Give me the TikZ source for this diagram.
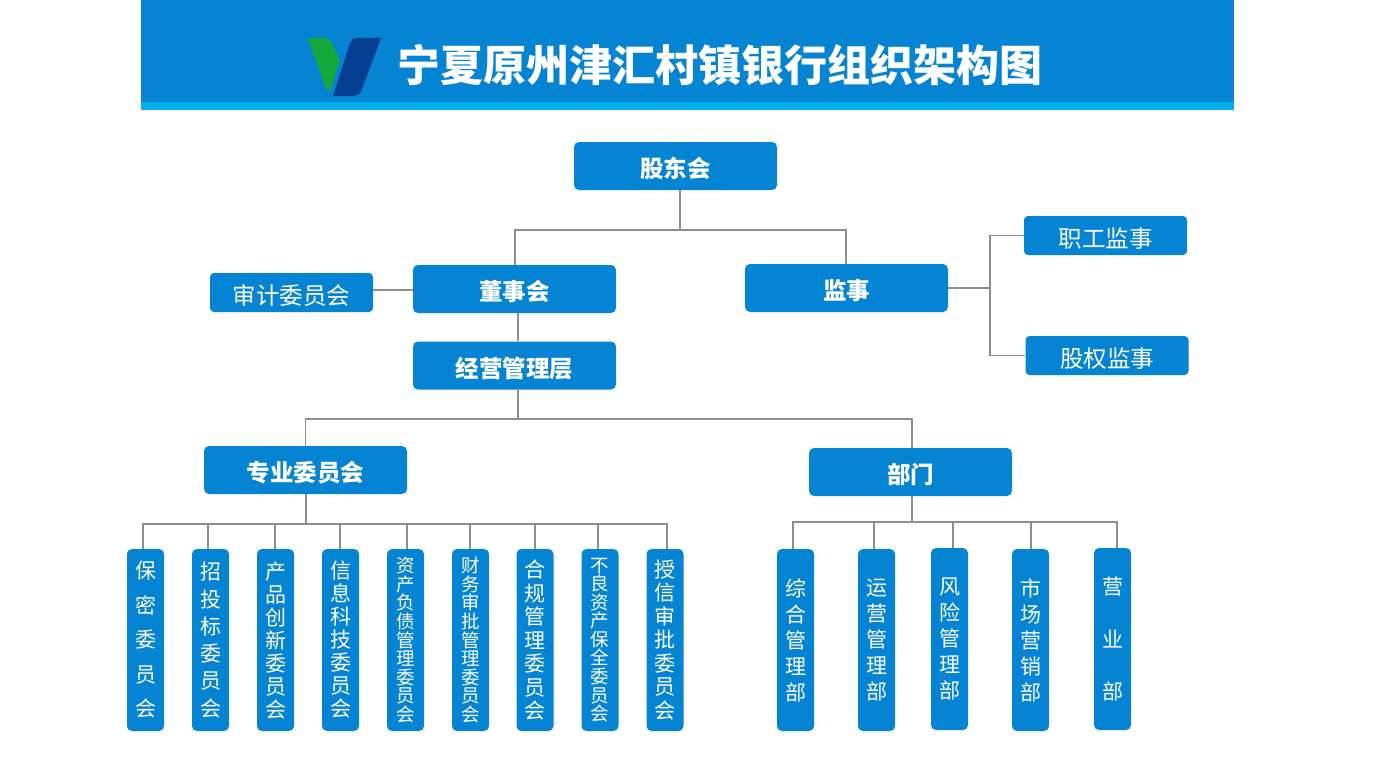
\documentclass[tikz,border=0pt]{standalone}
\usepackage{fontspec}
\setmainfont{Noto Sans CJK SC}

\definecolor{bankblue}{HTML}{0484D2}
\definecolor{striplight}{HTML}{04AEEE}
\definecolor{logogreen}{HTML}{16A83C}
\definecolor{logonavy}{HTML}{033E90}
\definecolor{linegray}{HTML}{8E8E8E}

\tikzstyle{link} = [draw=linegray, line width=1.4pt]
\tikzstyle{lowtext} = [execute at begin node={\rule{0pt}{1.1em}}]
\tikzstyle{lowstack} = [execute at begin node={\rule{0pt}{1.3em}}]
\tikzstyle{mainbox} = [fill=bankblue, text=white, rectangle, rounded corners=5pt,
    inner sep=0pt, minimum width=203pt, minimum height=48pt, lowtext,
    font=\fontsize{23.5}{28}\selectfont\bfseries]
\tikzstyle{sidebox} = [fill=bankblue, text=white, rectangle, rounded corners=4pt,
    inner sep=0pt, minimum width=163pt, minimum height=39pt, lowtext,
    font=\fontsize{23.5}{28}\selectfont]
\tikzstyle{tallbox} = [fill=bankblue, text=white, rectangle, rounded corners=5pt,
    inner sep=0pt, minimum width=37pt, minimum height=182pt, align=center]

\begin{document}
\begin{tikzpicture}[x=1pt, y=-1pt]
\useasboundingbox (0,0) rectangle (1375,773);
\fill[white] (0,0) rectangle (1375,773);

% title band
\fill[bankblue] (141,0) rectangle (1234,102);
\fill[striplight] (141,102) rectangle (1234,110);
\fill[logogreen] (308,38) -- (324,38) .. controls (329,38) and (331,41) .. (332,44)
    -- (340,60) -- (330,91) .. controls (327,91) and (326,89) .. (325,86) -- cycle;
\fill[logonavy] (381,38) -- (358,38) .. controls (354,38) and (351,40) .. (350,43)
    -- (333,96) -- (352,96) .. controls (357,96) and (361,93) .. (362,89) -- cycle;
\node[text=white, inner sep=0pt, font=\fontsize{43}{50}\selectfont\bfseries] (title) at (720,65) {宁夏原州津汇村镇银行组织架构图};

% upper levels
\node[mainbox] (gudong) at (675.5,166) {股东会};
\node[mainbox] (dongshi) at (514.5,289) {董事会};
\node[mainbox] (jianshi) at (846.5,288) {监事};
\node[sidebox] (shenji) at (291.5,292.5) {审计委员会};
\node[sidebox] (zhigong) at (1105.5,235.5) {职工监事};
\node[sidebox] (guquan) at (1107,355.5) {股权监事};
\node[mainbox] (jingying) at (514.5,365.5) {经营管理层};
\node[mainbox] (zhuanye) at (305.5,470) {专业委员会};
\node[mainbox] (bumen) at (910.5,472) {部门};

% committees
\node[tallbox, lowtext, font=\fontsize{21}{34.5}\selectfont] (baomi) at (145.5,640) {保\\密\\委\\员\\会};
\node[tallbox, lowstack, font=\fontsize{21}{27.3}\selectfont] (zhaotou) at (210.5,640) {招\\投\\标\\委\\员\\会};
\node[tallbox, lowtext, font=\fontsize{21}{23}\selectfont] (chanpin) at (275.5,640) {产\\品\\创\\新\\委\\员\\会};
\node[tallbox, lowtext, font=\fontsize{21}{23}\selectfont] (xinxi) at (340.5,640) {信\\息\\科\\技\\委\\员\\会};
\node[tallbox, lowstack, font=\fontsize{18.5}{18.6}\selectfont] (zichan) at (405.5,640) {资\\产\\负\\债\\管\\理\\委\\员\\会};
\node[tallbox, lowstack, font=\fontsize{18.5}{18.6}\selectfont] (caiwu) at (470.5,640) {财\\务\\审\\批\\管\\理\\委\\员\\会};
\node[tallbox, lowtext, font=\fontsize{21}{23.5}\selectfont] (hegui) at (535,640) {合\\规\\管\\理\\委\\员\\会};
\node[tallbox, lowstack, font=\fontsize{18.5}{18.6}\selectfont] (buliang) at (600,640) {不\\良\\资\\产\\保\\全\\委\\员\\会};
\node[tallbox, lowtext, font=\fontsize{21}{23.5}\selectfont] (shouxin) at (665,640) {授\\信\\审\\批\\委\\员\\会};

% departments
\node[tallbox, font=\fontsize{21}{26}\selectfont] (zonghe) at (795.5,640) {综\\合\\管\\理\\部};
\node[tallbox, font=\fontsize{21}{26}\selectfont] (yunying) at (876.5,640) {运\\营\\管\\理\\部};
\node[tallbox, font=\fontsize{21}{26}\selectfont] (fengxian) at (949.5,639) {风\\险\\管\\理\\部};
\node[tallbox, font=\fontsize{21}{26}\selectfont] (shichang) at (1030.5,640) {市\\场\\营\\销\\部};
\node[tallbox, font=\fontsize{21}{52.5}\selectfont] (yingye) at (1112.5,639) {营\\业\\部};

% junctions
\coordinate (j1) at (680,230);
\coordinate (j2) at (990,288);
\coordinate (j3) at (518,419);
\coordinate (j4) at (306,524);
\coordinate (j5) at (912,522);

\draw[link] (j1 |- gudong.south) -- (j1);
\draw[link] (515,265 |- dongshi.north) -- (515,230) -- (846,230) -- (846,264 |- jianshi.north);
\draw[link] (shenji.east |- 0,290) -- (dongshi.west |- 0,290);
\draw[link] (jianshi.east) -- (j2);
\draw[link] (zhigong.west) -- (990,235.5) -- (990,355.5) -- (guquan.west);
\draw[link] (j3 |- dongshi.south) -- (j3 |- jingying.north);
\draw[link] (j3 |- jingying.south) -- (j3);
\draw[link] (305.5,446) -- (305.5,419) -- (912,419) -- (912,448);
\draw[link] (j4 |- zhuanye.south) -- (j4);
\draw[link] (143,549) -- (143,524) -- (667,524) -- (667,549);
\draw[link] (208,524) -- (208,549);
\draw[link] (275,524) -- (275,549);
\draw[link] (340,524) -- (340,549);
\draw[link] (407,524) -- (407,549);
\draw[link] (470,524) -- (470,549);
\draw[link] (535,524) -- (535,549);
\draw[link] (598,524) -- (598,549);
\draw[link] (j5 |- bumen.south) -- (j5);
\draw[link] (793,549) -- (793,522) -- (1117,522) -- (1117,548);
\draw[link] (874,522) -- (874,549);
\draw[link] (953,522) -- (953,548);
\draw[link] (1031,522) -- (1031,549);
\end{tikzpicture}
\end{document}
